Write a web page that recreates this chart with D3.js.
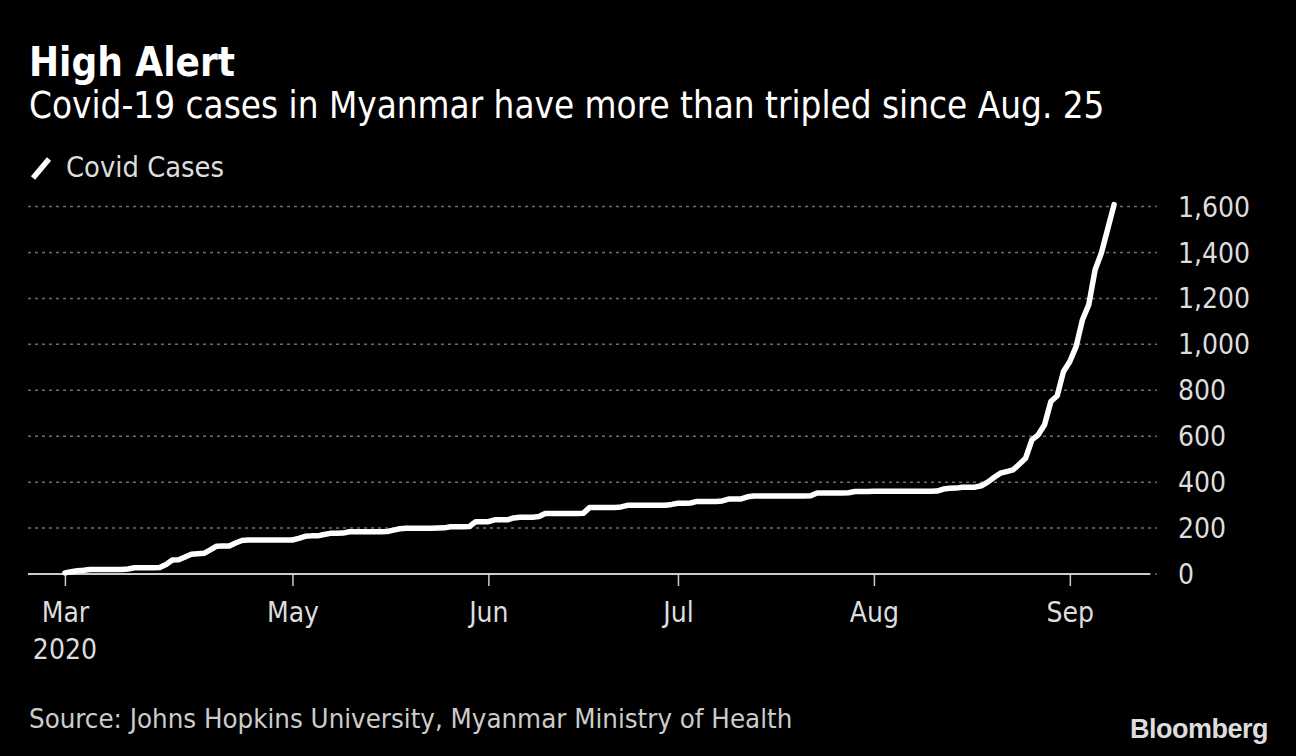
<!DOCTYPE html>
<html>
<head>
<meta charset="utf-8">
<script src="https://cdn.jsdelivr.net/npm/d3@7"></script>
<style>
  html, body { margin: 0; padding: 0; background: #000; }
  svg { display: block; }
  text { font-family: "DejaVu Sans Condensed", "DejaVu Sans", sans-serif; font-stretch: condensed; }
</style>
</head>
<body>
<svg id="chart" width="1296" height="756"></svg>
<script>
var width = 1296, height = 756;

// daily Covid cases, Myanmar, starting Mar 26 2020
var startDate = new Date(2020, 2, 26);
var casesMar = [5, 10, 14, 16, 20, 20];
var casesApr = [20, 20, 20, 20, 22, 27, 27, 27, 27, 28, 41, 61, 62, 74, 86, 88, 90, 105, 121, 122,
                122, 135, 146, 148, 148, 148, 148, 148, 148, 148];
var casesMay = [148, 155, 164, 166, 166, 172, 177, 177, 178, 184, 184, 184, 184, 184, 184, 185,
                191, 197, 199, 199, 199, 199, 199, 200, 201, 206, 206, 206, 207, 228, 228];
var casesJun = [228, 236, 236, 236, 244, 247, 247, 247, 250, 263, 263, 263, 263, 263, 263, 264,
                289, 290, 290, 290, 290, 292, 299, 299, 299, 299, 299, 299, 299, 303];
var casesJul = [308, 308, 309, 316, 316, 316, 316, 318, 326, 326, 327, 336, 340, 340, 340, 340,
                340, 340, 340, 340, 340, 341, 353, 353, 353, 353, 353, 354, 359, 359, 359];
var casesAug = [360, 360, 360, 360, 360, 360, 360, 360, 360, 360, 361, 370, 373, 374, 378, 378,
                378, 384, 400, 420, 439, 446, 453, 478, 504, 584, 606, 650, 751, 776, 882];
var casesSep = [925, 991, 1107, 1173, 1325, 1398, 1503, 1608];

var yTicks = [0, 200, 400, 600, 800, 1000, 1200, 1400, 1600];
var xTickDates = [new Date(2020, 2, 26), new Date(2020, 4, 1), new Date(2020, 5, 1),
                  new Date(2020, 6, 1), new Date(2020, 7, 1), new Date(2020, 8, 1)];
var xTickLabels = ["Mar", "May", "Jun", "Jul", "Aug", "Sep"];

var cases = [].concat(casesMar, casesApr, casesMay, casesJun, casesJul, casesAug, casesSep);
var data = cases.map(function (v, i) {
  return { date: d3.timeDay.offset(startDate, i), value: v };
});

var svg = d3.select("#chart");
svg.append("rect").attr("width", width).attr("height", height).attr("fill", "#000");

var x = d3.scaleTime()
  .domain([new Date(2020, 2, 20), new Date(2020, 8, 14)])
  .range([27, 1152]);

var y = d3.scaleLinear()
  .domain([0, 1600])
  .range([574, 206.5]);

// titles
svg.append("text")
  .attr("x", 29).attr("y", 76)
  .attr("fill", "#fff")
  .style("font-size", "40px")
  .style("font-weight", "bold")
  .text("High Alert");

svg.append("text")
  .attr("x", 29).attr("y", 118)
  .attr("fill", "#fff")
  .style("font-size", "36.5px")
  .text("Covid-19 cases in Myanmar have more than tripled since Aug. 25");

// legend
svg.append("line")
  .attr("x1", 33).attr("y1", 178)
  .attr("x2", 49).attr("y2", 159)
  .attr("stroke", "#fff")
  .attr("stroke-width", 5.5);

svg.append("text")
  .attr("x", 66).attr("y", 177)
  .attr("fill", "#ddd")
  .style("font-size", "28.8px")
  .text("Covid Cases");

// grid
svg.append("g")
  .selectAll("line")
  .data(yTicks)
  .enter()
  .append("line")
  .attr("x1", 28)
  .attr("x2", 1157)
  .attr("y1", function (d) { return y(d); })
  .attr("y2", function (d) { return y(d); })
  .attr("stroke", "#6e6e6e")
  .attr("stroke-width", 1.5)
  .attr("stroke-dasharray", "3,4");

// y labels
svg.append("g")
  .selectAll("text")
  .data(yTicks)
  .enter()
  .append("text")
  .attr("x", 1178)
  .attr("y", function (d) { return y(d); })
  .attr("dy", "0.36em")
  .attr("fill", "#ddd")
  .style("font-size", "28px")
  .text(function (d) { return d3.format(",")(d); });

// x axis
var xAxis = d3.axisBottom(x)
  .tickValues(xTickDates)
  .tickSize(12)
  .tickFormat(function (d, i) { return xTickLabels[i]; });

var gx = svg.append("g")
  .attr("transform", "translate(0," + y(0) + ")")
  .call(xAxis);

gx.select(".domain").remove();
gx.selectAll(".tick line").attr("stroke", "#ccc").attr("stroke-width", 1.5);
gx.selectAll(".tick text")
  .attr("fill", "#ddd")
  .attr("y", 28)
  .attr("dy", "0.71em")
  .style("font-size", "28px")
  .style("font-family", null);

gx.append("line")
  .attr("x1", 28).attr("x2", 1150)
  .attr("stroke", "#ccc")
  .attr("stroke-width", 2);

gx.append("text")
  .attr("x", x(xTickDates[0]))
  .attr("y", 65)
  .attr("dy", "0.71em")
  .attr("text-anchor", "middle")
  .attr("fill", "#ddd")
  .style("font-size", "28px")
  .text("2020");

// line
var line = d3.line()
  .x(function (d) { return x(d.date); })
  .y(function (d) { return y(d.value); });

svg.append("path")
  .datum(data)
  .attr("fill", "none")
  .attr("stroke", "#fff")
  .attr("stroke-width", 5.5)
  .attr("stroke-linejoin", "round")
  .attr("stroke-linecap", "round")
  .attr("d", line);

// footer
svg.append("text")
  .attr("x", 29).attr("y", 728)
  .attr("fill", "#ccc")
  .style("font-size", "27.4px")
  .text("Source: Johns Hopkins University, Myanmar Ministry of Health");

svg.append("text")
  .attr("x", 1268).attr("y", 738)
  .attr("text-anchor", "end")
  .attr("fill", "#ddd")
  .style("font-family", "'Liberation Sans', Arial, sans-serif")
  .style("font-stretch", "normal")
  .style("font-size", "27px")
  .style("font-weight", "bold")
  .style("letter-spacing", "-0.5px")
  .text("Bloomberg");
</script>
</body>
</html>
